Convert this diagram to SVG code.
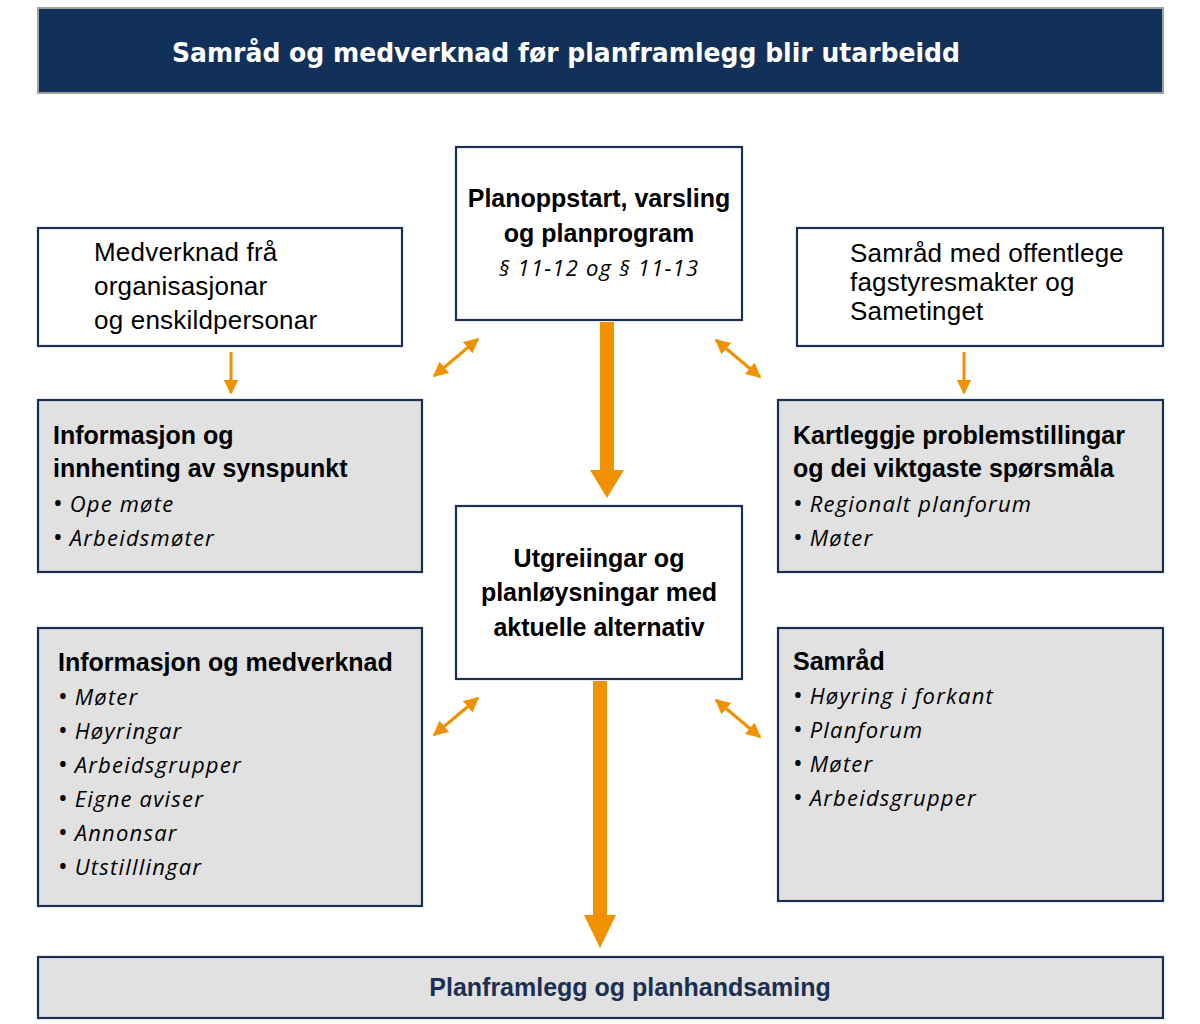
<svg xmlns="http://www.w3.org/2000/svg" width="1200" height="1024" viewBox="0 0 1200 1024">
<style>
.box{fill:#ffffff;stroke:#1b2f52;stroke-width:2.2}
.gbox{fill:#e1e1e1;stroke:#1b2f52;stroke-width:2.2}
.h{font-family:"Liberation Sans",Arial,sans-serif;font-weight:bold;font-size:25px;fill:#000}
.r{font-family:"Liberation Sans",Arial,sans-serif;font-size:26px;fill:#000;letter-spacing:0.2px}
.i{font-family:"Open Sans","DejaVu Sans",sans-serif;font-style:italic;font-size:22px;fill:#000;letter-spacing:1.2px}
.b{font-style:normal;font-size:26px;letter-spacing:0}
.thin{stroke:#f29100;stroke-width:3;fill:none}
.fill{fill:#f29100}
</style>
<defs>
<marker id="ah" viewBox="0 0 10 10" refX="9" refY="5" markerWidth="5" markerHeight="5" orient="auto-start-reverse" markerUnits="strokeWidth">
<path d="M0,0 L10,5 L0,10 z" fill="#f29100"/>
</marker>
</defs>
<rect width="1200" height="1024" fill="#fff"/>
<g id="header">
<rect x="38" y="8" width="1125" height="85" fill="#12315a" stroke="#a0a0a0" stroke-width="2"/>
<text x="172" y="62" font-family="DejaVu Sans,Verdana,sans-serif" font-weight="bold" font-size="26" fill="#fff" textLength="788" lengthAdjust="spacingAndGlyphs">Samråd og medverknad før planframlegg blir utarbeidd</text>
</g>
<g id="connectors">
<line class="thin" x1="231" y1="352" x2="231" y2="393" marker-end="url(#ah)"/>
<line class="thin" x1="964" y1="352" x2="964" y2="393" marker-end="url(#ah)"/>
<line class="thin" x1="434" y1="376" x2="478" y2="339" marker-start="url(#ah)" marker-end="url(#ah)"/>
<line class="thin" x1="716" y1="340" x2="760" y2="377" marker-start="url(#ah)" marker-end="url(#ah)"/>
<line class="thin" x1="434" y1="735" x2="478" y2="698" marker-start="url(#ah)" marker-end="url(#ah)"/>
<line class="thin" x1="716" y1="700" x2="760" y2="737" marker-start="url(#ah)" marker-end="url(#ah)"/>
<path class="fill" d="M600,322 L614,322 L614,470 L624,470 L607,498 L590,470 L600,470 Z"/>
<path class="fill" d="M593,681 L607,681 L607,915 L616,915 L600,948 L584,915 L593,915 Z"/>
</g>
<g id="planoppstart">
<rect class="box" x="456" y="147" width="286" height="173"/>
<text class="h" x="599" y="207" text-anchor="middle">Planoppstart, varsling</text>
<text class="h" x="599" y="242" text-anchor="middle">og planprogram</text>
<text class="i" x="599" y="276" text-anchor="middle">§ 11-12 og § 11-13</text>
</g>
<g id="medverknad">
<rect class="box" x="38" y="228" width="364" height="118"/>
<text class="r" x="94" y="261">Medverknad frå</text>
<text class="r" x="94" y="295">organisasjonar</text>
<text class="r" x="94" y="329">og enskildpersonar</text>
</g>
<g id="samrad-offentlege">
<rect class="box" x="797" y="228" width="366" height="118"/>
<text class="r" x="850" y="262">Samråd med offentlege</text>
<text class="r" x="850" y="291">fagstyresmakter og</text>
<text class="r" x="850" y="320">Sametinget</text>
</g>
<g id="informasjon-innhenting">
<rect class="gbox" x="38" y="400" width="384" height="172"/>
<text class="h" x="53" y="444">Informasjon og</text>
<text class="h" x="53" y="477">innhenting av synspunkt</text>
<text class="i" x="53" y="512"><tspan class="b">•</tspan> Ope møte</text>
<text class="i" x="53" y="546"><tspan class="b">•</tspan> Arbeidsmøter</text>
</g>
<g id="kartleggje">
<rect class="gbox" x="778" y="400" width="385" height="172"/>
<text class="h" x="793" y="444">Kartleggje problemstillingar</text>
<text class="h" x="793" y="477">og dei viktgaste spørsmåla</text>
<text class="i" x="793" y="512"><tspan class="b">•</tspan> Regionalt planforum</text>
<text class="i" x="793" y="546"><tspan class="b">•</tspan> Møter</text>
</g>
<g id="utgreiingar">
<rect class="box" x="456" y="506" width="286" height="173"/>
<text class="h" x="599" y="567" text-anchor="middle">Utgreiingar og</text>
<text class="h" x="599" y="601" text-anchor="middle">planløysningar med</text>
<text class="h" x="599" y="636" text-anchor="middle">aktuelle alternativ</text>
</g>
<g id="informasjon-medverknad">
<rect class="gbox" x="38" y="628" width="384" height="278"/>
<text class="h" x="58" y="671">Informasjon og medverknad</text>
<text class="i" x="58" y="705"><tspan class="b">•</tspan> Møter</text>
<text class="i" x="58" y="739"><tspan class="b">•</tspan> Høyringar</text>
<text class="i" x="58" y="773"><tspan class="b">•</tspan> Arbeidsgrupper</text>
<text class="i" x="58" y="807"><tspan class="b">•</tspan> Eigne aviser</text>
<text class="i" x="58" y="841"><tspan class="b">•</tspan> Annonsar</text>
<text class="i" x="58" y="875"><tspan class="b">•</tspan> Utstilllingar</text>
</g>
<g id="samrad">
<rect class="gbox" x="778" y="628" width="385" height="273"/>
<text class="h" x="793" y="670">Samråd</text>
<text class="i" x="793" y="704"><tspan class="b">•</tspan> Høyring i forkant</text>
<text class="i" x="793" y="738"><tspan class="b">•</tspan> Planforum</text>
<text class="i" x="793" y="772"><tspan class="b">•</tspan> Møter</text>
<text class="i" x="793" y="806"><tspan class="b">•</tspan> Arbeidsgrupper</text>
</g>
<g id="planframlegg">
<rect class="gbox" x="38" y="957" width="1125" height="61"/>
<text x="630" y="996" text-anchor="middle" font-family="Liberation Sans,Arial,sans-serif" font-weight="bold" font-size="25" fill="#1b2f52">Planframlegg og planhandsaming</text>
</g>
</svg>
